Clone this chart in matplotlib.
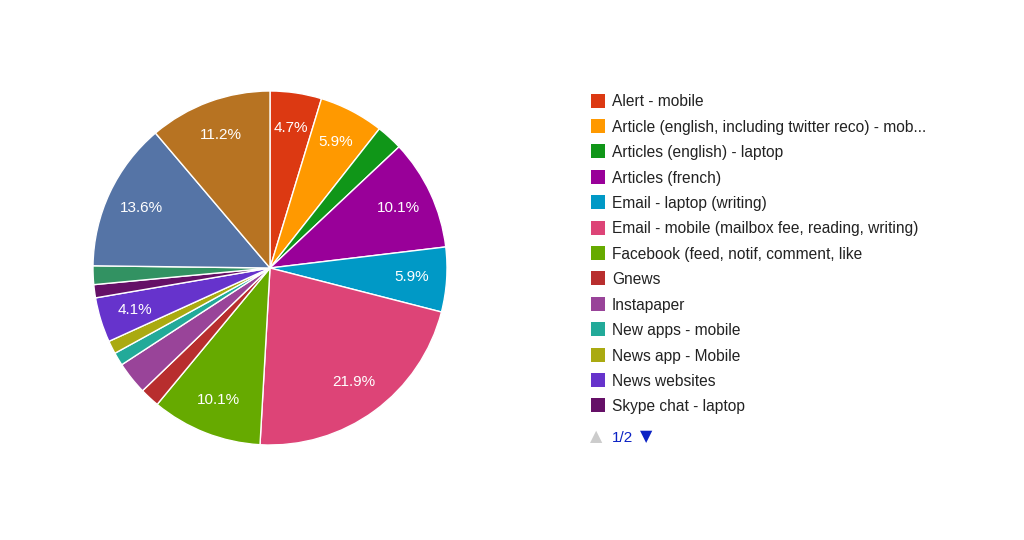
import matplotlib
matplotlib.use('Agg')
import matplotlib.pyplot as plt
from matplotlib.patches import Rectangle

plt.rcParams['font.family'] = ['Liberation Sans', 'DejaVu Sans']

# waarden per categorie (%), met de klok mee vanaf boven
labels = ['Alert - mobile',
          'Article (english, including twitter reco) - mob...',
          'Articles (english) - laptop',
          'Articles (french)',
          'Email - laptop (writing)',
          'Email - mobile (mailbox fee, reading, writing)',
          'Facebook (feed, notif, comment, like',
          'Gnews',
          'Instapaper',
          'New apps - mobile',
          'News app - Mobile',
          'News websites',
          'Skype chat - laptop']
# de laatste drie staan op pagina 2 van de legenda
values = [4.7, 5.9, 2.4, 10.1, 5.9, 21.9, 10.1, 1.8, 3.0, 1.2, 1.2, 4.1, 1.2,
          1.7, 13.6, 11.2]
colors = ['#dc3912', '#ff9900', '#109618', '#990099', '#0099c6', '#dd4477',
          '#66aa00', '#b82e2e', '#994499', '#22aa99', '#aaaa11', '#6633cc',
          '#651067', '#329262', '#5574a6', '#b77322']

fig = plt.figure(figsize=(10.24, 5.4), dpi=100)
W, H = 1024, 540

# pie: midden (270, 268), straal 177 px
cx, cy, r = 270, 268, 177
ax = fig.add_axes([(cx - r) / W, (H - cy - r) / H, 2 * r / W, 2 * r / H])


def pct(p):
    return '%.1f%%' % p if p >= 4 else ''


wedges, texts, autotexts = ax.pie(values, colors=colors, startangle=90,
                                  counterclock=False, autopct=pct,
                                  pctdistance=0.8, radius=1,
                                  wedgeprops=dict(edgecolor='white', linewidth=1))
for t in autotexts:
    t.set_color('white')
    t.set_fontsize(11)
ax.set_xlim(-1, 1)
ax.set_ylim(-1, 1)
ax.set_aspect('equal')
ax.axis('off')

# legenda (pagina 1)
y0 = 100.5
step = 25.4
for i, lab in enumerate(labels):
    y = y0 + i * step
    fig.patches.append(Rectangle((591 / W, (H - y - 7) / H), 14 / W, 14 / H,
                                 transform=fig.transFigure,
                                 facecolor=colors[i], edgecolor='none'))
    fig.text(612 / W, (H - y - 1.5) / H, lab, fontsize=11.2, color='#222222',
             va='center', ha='left')

# paginering
fig.text(590 / W, (H - 437) / H, '\u25b2', fontsize=11.5, color='#cccccc',
         va='center', ha='left', family='DejaVu Sans')
fig.text(612 / W, (H - 438) / H, '1/2', fontsize=11, color='#0b22c4',
         va='center', ha='left')
fig.text(640 / W, (H - 437) / H, '\u25bc', fontsize=11.5, color='#0b22c4',
         va='center', ha='left', family='DejaVu Sans')

fig.savefig('out.png', dpi=100, facecolor='white')
